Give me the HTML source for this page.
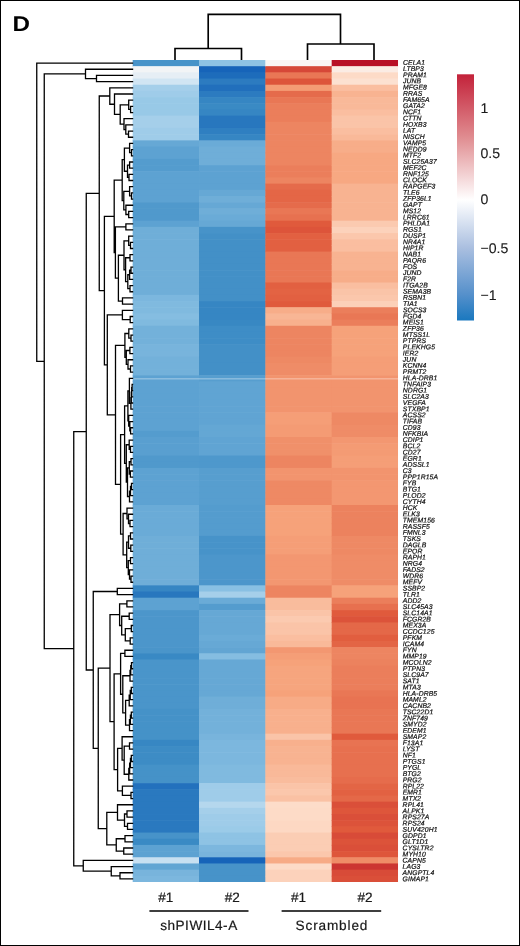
<!DOCTYPE html>
<html lang="en"><head><meta charset="utf-8"><title>Heatmap D</title>
<style>
html,body{margin:0;padding:0;background:#fff;overflow:hidden}
svg{display:block;will-change:transform;opacity:.999}
text{font-family:"Liberation Sans",sans-serif;fill:#1a1a1a;text-rendering:geometricPrecision}
.g{font-style:italic;font-size:6.8px;letter-spacing:.12px;fill:#0c0c0c;stroke:#0c0c0c;stroke-width:.22px}
.t{font-size:14.1px;fill:#111;stroke:#111;stroke-width:.12px}
.b{font-size:13.6px;fill:#0a0a0a;stroke:#0a0a0a;stroke-width:.18px}
</style></head>
<body>
<svg width="520" height="946" viewBox="0 0 520 946">
<defs><linearGradient id="cb" x1="0" y1="0" x2="0" y2="1"><stop offset="0" stop-color="#c3223a"/><stop offset="0.255" stop-color="#e08c90"/><stop offset="0.51" stop-color="#ffffff"/><stop offset="0.705" stop-color="#aabfe0"/><stop offset="0.895" stop-color="#5590cb"/><stop offset="1" stop-color="#1a78bf"/></linearGradient></defs>
<rect x="0" y="0" width="520" height="946" fill="#fff"/>
<rect x="0.5" y="0.5" width="519" height="945" fill="none" stroke="#000" stroke-width="1"/>
<text transform="translate(12.5 31.2) scale(1.13 1)" style="font-weight:bold;font-size:21.4px;fill:#000">D</text>
<g>
<rect x="132.70" y="60.00" width="66.83" height="6.78" fill="#4793c9"/><rect x="132.70" y="66.18" width="66.83" height="6.78" fill="#f2f4f6"/><rect x="132.70" y="72.36" width="66.83" height="6.78" fill="#e6eef5"/><rect x="132.70" y="78.54" width="66.83" height="6.78" fill="#d1e5f3"/><rect x="132.70" y="84.72" width="66.83" height="6.78" fill="#a5cfea"/><rect x="132.70" y="90.90" width="66.83" height="6.78" fill="#9fcce9"/><rect x="132.70" y="97.08" width="66.83" height="6.78" fill="#98c9e7"/><rect x="132.70" y="103.26" width="66.83" height="6.78" fill="#98c9e7"/><rect x="132.70" y="109.44" width="66.83" height="6.78" fill="#98c9e7"/><rect x="132.70" y="115.62" width="66.83" height="6.78" fill="#a5cfea"/><rect x="132.70" y="121.80" width="66.83" height="6.78" fill="#a5cfea"/><rect x="132.70" y="127.98" width="66.83" height="6.78" fill="#9fcce9"/><rect x="132.70" y="134.17" width="66.83" height="6.78" fill="#9fcce9"/><rect x="132.70" y="140.35" width="66.83" height="6.78" fill="#66a8d5"/><rect x="132.70" y="146.53" width="66.83" height="6.78" fill="#5da2d2"/><rect x="132.70" y="152.71" width="66.83" height="6.78" fill="#5da2d2"/><rect x="132.70" y="158.89" width="66.83" height="6.78" fill="#549cce"/><rect x="132.70" y="165.07" width="66.83" height="6.78" fill="#549cce"/><rect x="132.70" y="171.25" width="66.83" height="6.78" fill="#5da2d2"/><rect x="132.70" y="177.43" width="66.83" height="6.78" fill="#5da2d2"/><rect x="132.70" y="183.61" width="66.83" height="6.78" fill="#5da2d2"/><rect x="132.70" y="189.79" width="66.83" height="6.78" fill="#5da2d2"/><rect x="132.70" y="195.97" width="66.83" height="6.78" fill="#5da2d2"/><rect x="132.70" y="202.15" width="66.83" height="6.78" fill="#5099cc"/><rect x="132.70" y="208.33" width="66.83" height="6.78" fill="#5099cc"/><rect x="132.70" y="214.51" width="66.83" height="6.78" fill="#5099cc"/><rect x="132.70" y="220.69" width="66.83" height="6.78" fill="#5da2d2"/><rect x="132.70" y="226.87" width="66.83" height="6.78" fill="#6faed8"/><rect x="132.70" y="233.05" width="66.83" height="6.78" fill="#6faed8"/><rect x="132.70" y="239.23" width="66.83" height="6.78" fill="#6faed8"/><rect x="132.70" y="245.41" width="66.83" height="6.78" fill="#6faed8"/><rect x="132.70" y="251.59" width="66.83" height="6.78" fill="#6faed8"/><rect x="132.70" y="257.77" width="66.83" height="6.78" fill="#6faed8"/><rect x="132.70" y="263.95" width="66.83" height="6.78" fill="#6faed8"/><rect x="132.70" y="270.14" width="66.83" height="6.78" fill="#6faed8"/><rect x="132.70" y="276.32" width="66.83" height="6.78" fill="#6faed8"/><rect x="132.70" y="282.50" width="66.83" height="6.78" fill="#6faed8"/><rect x="132.70" y="288.68" width="66.83" height="6.78" fill="#6faed8"/><rect x="132.70" y="294.86" width="66.83" height="6.78" fill="#7cb7de"/><rect x="132.70" y="301.04" width="66.83" height="6.78" fill="#80badf"/><rect x="132.70" y="307.22" width="66.83" height="6.78" fill="#80badf"/><rect x="132.70" y="313.40" width="66.83" height="6.78" fill="#85bde1"/><rect x="132.70" y="319.58" width="66.83" height="6.78" fill="#80badf"/><rect x="132.70" y="325.76" width="66.83" height="6.78" fill="#73b1da"/><rect x="132.70" y="331.94" width="66.83" height="6.78" fill="#73b1da"/><rect x="132.70" y="338.12" width="66.83" height="6.78" fill="#73b1da"/><rect x="132.70" y="344.30" width="66.83" height="6.78" fill="#78b4dc"/><rect x="132.70" y="350.48" width="66.83" height="6.78" fill="#78b4dc"/><rect x="132.70" y="356.66" width="66.83" height="6.78" fill="#73b1da"/><rect x="132.70" y="362.84" width="66.83" height="6.78" fill="#73b1da"/><rect x="132.70" y="369.02" width="66.83" height="6.78" fill="#73b1da"/><rect x="132.70" y="375.20" width="66.83" height="6.78" fill="#5da2d2"/><rect x="132.70" y="381.38" width="66.83" height="6.78" fill="#5da2d2"/><rect x="132.70" y="387.56" width="66.83" height="6.78" fill="#5da2d2"/><rect x="132.70" y="393.74" width="66.83" height="6.78" fill="#5da2d2"/><rect x="132.70" y="399.92" width="66.83" height="6.78" fill="#5da2d2"/><rect x="132.70" y="406.11" width="66.83" height="6.78" fill="#5da2d2"/><rect x="132.70" y="412.29" width="66.83" height="6.78" fill="#5da2d2"/><rect x="132.70" y="418.47" width="66.83" height="6.78" fill="#5da2d2"/><rect x="132.70" y="424.65" width="66.83" height="6.78" fill="#5da2d2"/><rect x="132.70" y="430.83" width="66.83" height="6.78" fill="#549cce"/><rect x="132.70" y="437.01" width="66.83" height="6.78" fill="#599fd0"/><rect x="132.70" y="443.19" width="66.83" height="6.78" fill="#599fd0"/><rect x="132.70" y="449.37" width="66.83" height="6.78" fill="#599fd0"/><rect x="132.70" y="455.55" width="66.83" height="6.78" fill="#5099cc"/><rect x="132.70" y="461.73" width="66.83" height="6.78" fill="#5099cc"/><rect x="132.70" y="467.91" width="66.83" height="6.78" fill="#5da2d2"/><rect x="132.70" y="474.09" width="66.83" height="6.78" fill="#5da2d2"/><rect x="132.70" y="480.27" width="66.83" height="6.78" fill="#5da2d2"/><rect x="132.70" y="486.45" width="66.83" height="6.78" fill="#5da2d2"/><rect x="132.70" y="492.63" width="66.83" height="6.78" fill="#5da2d2"/><rect x="132.70" y="498.81" width="66.83" height="6.78" fill="#5da2d2"/><rect x="132.70" y="504.99" width="66.83" height="6.78" fill="#6aabd7"/><rect x="132.70" y="511.17" width="66.83" height="6.78" fill="#6aabd7"/><rect x="132.70" y="517.35" width="66.83" height="6.78" fill="#6aabd7"/><rect x="132.70" y="523.53" width="66.83" height="6.78" fill="#6aabd7"/><rect x="132.70" y="529.71" width="66.83" height="6.78" fill="#6aabd7"/><rect x="132.70" y="535.89" width="66.83" height="6.78" fill="#6faed8"/><rect x="132.70" y="542.08" width="66.83" height="6.78" fill="#6faed8"/><rect x="132.70" y="548.26" width="66.83" height="6.78" fill="#6faed8"/><rect x="132.70" y="554.44" width="66.83" height="6.78" fill="#6faed8"/><rect x="132.70" y="560.62" width="66.83" height="6.78" fill="#6faed8"/><rect x="132.70" y="566.80" width="66.83" height="6.78" fill="#6faed8"/><rect x="132.70" y="572.98" width="66.83" height="6.78" fill="#6faed8"/><rect x="132.70" y="579.16" width="66.83" height="6.78" fill="#6faed8"/><rect x="132.70" y="585.34" width="66.83" height="6.78" fill="#3686c3"/><rect x="132.70" y="591.52" width="66.83" height="6.78" fill="#2877be"/><rect x="132.70" y="597.70" width="66.83" height="6.78" fill="#5da2d2"/><rect x="132.70" y="603.88" width="66.83" height="6.78" fill="#5da2d2"/><rect x="132.70" y="610.06" width="66.83" height="6.78" fill="#4c96cb"/><rect x="132.70" y="616.24" width="66.83" height="6.78" fill="#4c96cb"/><rect x="132.70" y="622.42" width="66.83" height="6.78" fill="#4c96cb"/><rect x="132.70" y="628.60" width="66.83" height="6.78" fill="#4c96cb"/><rect x="132.70" y="634.78" width="66.83" height="6.78" fill="#4c96cb"/><rect x="132.70" y="640.96" width="66.83" height="6.78" fill="#4c96cb"/><rect x="132.70" y="647.14" width="66.83" height="6.78" fill="#4a95ca"/><rect x="132.70" y="653.32" width="66.83" height="6.78" fill="#3989c4"/><rect x="132.70" y="659.50" width="66.83" height="6.78" fill="#4a95ca"/><rect x="132.70" y="665.68" width="66.83" height="6.78" fill="#4a95ca"/><rect x="132.70" y="671.86" width="66.83" height="6.78" fill="#4a95ca"/><rect x="132.70" y="678.05" width="66.83" height="6.78" fill="#4a95ca"/><rect x="132.70" y="684.23" width="66.83" height="6.78" fill="#4a95ca"/><rect x="132.70" y="690.41" width="66.83" height="6.78" fill="#4a95ca"/><rect x="132.70" y="696.59" width="66.83" height="6.78" fill="#4a95ca"/><rect x="132.70" y="702.77" width="66.83" height="6.78" fill="#4a95ca"/><rect x="132.70" y="708.95" width="66.83" height="6.78" fill="#4592c8"/><rect x="132.70" y="715.13" width="66.83" height="6.78" fill="#4592c8"/><rect x="132.70" y="721.31" width="66.83" height="6.78" fill="#4592c8"/><rect x="132.70" y="727.49" width="66.83" height="6.78" fill="#4592c8"/><rect x="132.70" y="733.67" width="66.83" height="6.78" fill="#4592c8"/><rect x="132.70" y="739.85" width="66.83" height="6.78" fill="#3787c3"/><rect x="132.70" y="746.03" width="66.83" height="6.78" fill="#3d8cc5"/><rect x="132.70" y="752.21" width="66.83" height="6.78" fill="#3d8cc5"/><rect x="132.70" y="758.39" width="66.83" height="6.78" fill="#3d8cc5"/><rect x="132.70" y="764.57" width="66.83" height="6.78" fill="#4592c8"/><rect x="132.70" y="770.75" width="66.83" height="6.78" fill="#4592c8"/><rect x="132.70" y="776.93" width="66.83" height="6.78" fill="#4592c8"/><rect x="132.70" y="783.11" width="66.83" height="6.78" fill="#2371bd"/><rect x="132.70" y="789.29" width="66.83" height="6.78" fill="#2a79bf"/><rect x="132.70" y="795.47" width="66.83" height="6.78" fill="#2a79bf"/><rect x="132.70" y="801.65" width="66.83" height="6.78" fill="#2a79bf"/><rect x="132.70" y="807.83" width="66.83" height="6.78" fill="#2a79bf"/><rect x="132.70" y="814.02" width="66.83" height="6.78" fill="#2a79bf"/><rect x="132.70" y="820.20" width="66.83" height="6.78" fill="#2a79bf"/><rect x="132.70" y="826.38" width="66.83" height="6.78" fill="#2a79bf"/><rect x="132.70" y="832.56" width="66.83" height="6.78" fill="#4793c9"/><rect x="132.70" y="838.74" width="66.83" height="6.78" fill="#3a8ac4"/><rect x="132.70" y="844.92" width="66.83" height="6.78" fill="#5da2d2"/><rect x="132.70" y="851.10" width="66.83" height="6.78" fill="#5da2d2"/><rect x="132.70" y="857.28" width="66.83" height="6.78" fill="#c8e0f1"/><rect x="132.70" y="863.46" width="66.83" height="6.78" fill="#62a5d3"/><rect x="132.70" y="869.64" width="66.83" height="6.78" fill="#78b4dc"/><rect x="132.70" y="875.82" width="66.83" height="6.18" fill="#7cb7de"/>
<rect x="199.02" y="60.00" width="66.83" height="6.78" fill="#8ec3e4"/><rect x="199.02" y="66.18" width="66.83" height="6.78" fill="#1664b9"/><rect x="199.02" y="72.36" width="66.83" height="6.78" fill="#1d6cbb"/><rect x="199.02" y="78.54" width="66.83" height="6.78" fill="#2c7bc0"/><rect x="199.02" y="84.72" width="66.83" height="6.78" fill="#216fbc"/><rect x="199.02" y="90.90" width="66.83" height="6.78" fill="#2c7bc0"/><rect x="199.02" y="97.08" width="66.83" height="6.78" fill="#3686c3"/><rect x="199.02" y="103.26" width="66.83" height="6.78" fill="#3a8ac4"/><rect x="199.02" y="109.44" width="66.83" height="6.78" fill="#3686c3"/><rect x="199.02" y="115.62" width="66.83" height="6.78" fill="#2877be"/><rect x="199.02" y="121.80" width="66.83" height="6.78" fill="#2877be"/><rect x="199.02" y="127.98" width="66.83" height="6.78" fill="#2f7fc1"/><rect x="199.02" y="134.17" width="66.83" height="6.78" fill="#3686c3"/><rect x="199.02" y="140.35" width="66.83" height="6.78" fill="#6aabd7"/><rect x="199.02" y="146.53" width="66.83" height="6.78" fill="#6faed8"/><rect x="199.02" y="152.71" width="66.83" height="6.78" fill="#6faed8"/><rect x="199.02" y="158.89" width="66.83" height="6.78" fill="#6faed8"/><rect x="199.02" y="165.07" width="66.83" height="6.78" fill="#5da2d2"/><rect x="199.02" y="171.25" width="66.83" height="6.78" fill="#5da2d2"/><rect x="199.02" y="177.43" width="66.83" height="6.78" fill="#5da2d2"/><rect x="199.02" y="183.61" width="66.83" height="6.78" fill="#5da2d2"/><rect x="199.02" y="189.79" width="66.83" height="6.78" fill="#66a8d5"/><rect x="199.02" y="195.97" width="66.83" height="6.78" fill="#6faed8"/><rect x="199.02" y="202.15" width="66.83" height="6.78" fill="#66a8d5"/><rect x="199.02" y="208.33" width="66.83" height="6.78" fill="#6faed8"/><rect x="199.02" y="214.51" width="66.83" height="6.78" fill="#6aabd7"/><rect x="199.02" y="220.69" width="66.83" height="6.78" fill="#66a8d5"/><rect x="199.02" y="226.87" width="66.83" height="6.78" fill="#4793c9"/><rect x="199.02" y="233.05" width="66.83" height="6.78" fill="#4390c7"/><rect x="199.02" y="239.23" width="66.83" height="6.78" fill="#4390c7"/><rect x="199.02" y="245.41" width="66.83" height="6.78" fill="#4390c7"/><rect x="199.02" y="251.59" width="66.83" height="6.78" fill="#4390c7"/><rect x="199.02" y="257.77" width="66.83" height="6.78" fill="#4390c7"/><rect x="199.02" y="263.95" width="66.83" height="6.78" fill="#4390c7"/><rect x="199.02" y="270.14" width="66.83" height="6.78" fill="#4390c7"/><rect x="199.02" y="276.32" width="66.83" height="6.78" fill="#4390c7"/><rect x="199.02" y="282.50" width="66.83" height="6.78" fill="#4390c7"/><rect x="199.02" y="288.68" width="66.83" height="6.78" fill="#4390c7"/><rect x="199.02" y="294.86" width="66.83" height="6.78" fill="#4390c7"/><rect x="199.02" y="301.04" width="66.83" height="6.78" fill="#3686c3"/><rect x="199.02" y="307.22" width="66.83" height="6.78" fill="#3686c3"/><rect x="199.02" y="313.40" width="66.83" height="6.78" fill="#3686c3"/><rect x="199.02" y="319.58" width="66.83" height="6.78" fill="#3888c3"/><rect x="199.02" y="325.76" width="66.83" height="6.78" fill="#3e8dc6"/><rect x="199.02" y="331.94" width="66.83" height="6.78" fill="#3e8dc6"/><rect x="199.02" y="338.12" width="66.83" height="6.78" fill="#3e8dc6"/><rect x="199.02" y="344.30" width="66.83" height="6.78" fill="#4390c7"/><rect x="199.02" y="350.48" width="66.83" height="6.78" fill="#4390c7"/><rect x="199.02" y="356.66" width="66.83" height="6.78" fill="#4390c7"/><rect x="199.02" y="362.84" width="66.83" height="6.78" fill="#4390c7"/><rect x="199.02" y="369.02" width="66.83" height="6.78" fill="#4390c7"/><rect x="199.02" y="375.20" width="66.83" height="6.78" fill="#579ecf"/><rect x="199.02" y="381.38" width="66.83" height="6.78" fill="#60a4d3"/><rect x="199.02" y="387.56" width="66.83" height="6.78" fill="#60a4d3"/><rect x="199.02" y="393.74" width="66.83" height="6.78" fill="#60a4d3"/><rect x="199.02" y="399.92" width="66.83" height="6.78" fill="#60a4d3"/><rect x="199.02" y="406.11" width="66.83" height="6.78" fill="#60a4d3"/><rect x="199.02" y="412.29" width="66.83" height="6.78" fill="#60a4d3"/><rect x="199.02" y="418.47" width="66.83" height="6.78" fill="#60a4d3"/><rect x="199.02" y="424.65" width="66.83" height="6.78" fill="#64a7d4"/><rect x="199.02" y="430.83" width="66.83" height="6.78" fill="#64a7d4"/><rect x="199.02" y="437.01" width="66.83" height="6.78" fill="#60a4d3"/><rect x="199.02" y="443.19" width="66.83" height="6.78" fill="#60a4d3"/><rect x="199.02" y="449.37" width="66.83" height="6.78" fill="#60a4d3"/><rect x="199.02" y="455.55" width="66.83" height="6.78" fill="#4e98cc"/><rect x="199.02" y="461.73" width="66.83" height="6.78" fill="#4e98cc"/><rect x="199.02" y="467.91" width="66.83" height="6.78" fill="#579ecf"/><rect x="199.02" y="474.09" width="66.83" height="6.78" fill="#579ecf"/><rect x="199.02" y="480.27" width="66.83" height="6.78" fill="#579ecf"/><rect x="199.02" y="486.45" width="66.83" height="6.78" fill="#579ecf"/><rect x="199.02" y="492.63" width="66.83" height="6.78" fill="#579ecf"/><rect x="199.02" y="498.81" width="66.83" height="6.78" fill="#579ecf"/><rect x="199.02" y="504.99" width="66.83" height="6.78" fill="#549cce"/><rect x="199.02" y="511.17" width="66.83" height="6.78" fill="#549cce"/><rect x="199.02" y="517.35" width="66.83" height="6.78" fill="#549cce"/><rect x="199.02" y="523.53" width="66.83" height="6.78" fill="#549cce"/><rect x="199.02" y="529.71" width="66.83" height="6.78" fill="#549cce"/><rect x="199.02" y="535.89" width="66.83" height="6.78" fill="#4793c9"/><rect x="199.02" y="542.08" width="66.83" height="6.78" fill="#4793c9"/><rect x="199.02" y="548.26" width="66.83" height="6.78" fill="#4793c9"/><rect x="199.02" y="554.44" width="66.83" height="6.78" fill="#4c96cb"/><rect x="199.02" y="560.62" width="66.83" height="6.78" fill="#4c96cb"/><rect x="199.02" y="566.80" width="66.83" height="6.78" fill="#4c96cb"/><rect x="199.02" y="572.98" width="66.83" height="6.78" fill="#4c96cb"/><rect x="199.02" y="579.16" width="66.83" height="6.78" fill="#4c96cb"/><rect x="199.02" y="585.34" width="66.83" height="6.78" fill="#89c0e3"/><rect x="199.02" y="591.52" width="66.83" height="6.78" fill="#a5cfea"/><rect x="199.02" y="597.70" width="66.83" height="6.78" fill="#6aabd7"/><rect x="199.02" y="603.88" width="66.83" height="6.78" fill="#549cce"/><rect x="199.02" y="610.06" width="66.83" height="6.78" fill="#66a8d5"/><rect x="199.02" y="616.24" width="66.83" height="6.78" fill="#66a8d5"/><rect x="199.02" y="622.42" width="66.83" height="6.78" fill="#66a8d5"/><rect x="199.02" y="628.60" width="66.83" height="6.78" fill="#66a8d5"/><rect x="199.02" y="634.78" width="66.83" height="6.78" fill="#6aabd7"/><rect x="199.02" y="640.96" width="66.83" height="6.78" fill="#66a8d5"/><rect x="199.02" y="647.14" width="66.83" height="6.78" fill="#62a5d3"/><rect x="199.02" y="653.32" width="66.83" height="6.78" fill="#85bde1"/><rect x="199.02" y="659.50" width="66.83" height="6.78" fill="#66a8d5"/><rect x="199.02" y="665.68" width="66.83" height="6.78" fill="#66a8d5"/><rect x="199.02" y="671.86" width="66.83" height="6.78" fill="#66a8d5"/><rect x="199.02" y="678.05" width="66.83" height="6.78" fill="#66a8d5"/><rect x="199.02" y="684.23" width="66.83" height="6.78" fill="#66a8d5"/><rect x="199.02" y="690.41" width="66.83" height="6.78" fill="#66a8d5"/><rect x="199.02" y="696.59" width="66.83" height="6.78" fill="#6faed8"/><rect x="199.02" y="702.77" width="66.83" height="6.78" fill="#6faed8"/><rect x="199.02" y="708.95" width="66.83" height="6.78" fill="#73b1da"/><rect x="199.02" y="715.13" width="66.83" height="6.78" fill="#73b1da"/><rect x="199.02" y="721.31" width="66.83" height="6.78" fill="#73b1da"/><rect x="199.02" y="727.49" width="66.83" height="6.78" fill="#73b1da"/><rect x="199.02" y="733.67" width="66.83" height="6.78" fill="#78b4dc"/><rect x="199.02" y="739.85" width="66.83" height="6.78" fill="#7cb7de"/><rect x="199.02" y="746.03" width="66.83" height="6.78" fill="#7cb7de"/><rect x="199.02" y="752.21" width="66.83" height="6.78" fill="#7cb7de"/><rect x="199.02" y="758.39" width="66.83" height="6.78" fill="#7cb7de"/><rect x="199.02" y="764.57" width="66.83" height="6.78" fill="#80badf"/><rect x="199.02" y="770.75" width="66.83" height="6.78" fill="#80badf"/><rect x="199.02" y="776.93" width="66.83" height="6.78" fill="#80badf"/><rect x="199.02" y="783.11" width="66.83" height="6.78" fill="#9fcce9"/><rect x="199.02" y="789.29" width="66.83" height="6.78" fill="#9fcce9"/><rect x="199.02" y="795.47" width="66.83" height="6.78" fill="#9fcce9"/><rect x="199.02" y="801.65" width="66.83" height="6.78" fill="#b5d7ed"/><rect x="199.02" y="807.83" width="66.83" height="6.78" fill="#a5cfea"/><rect x="199.02" y="814.02" width="66.83" height="6.78" fill="#9fcce9"/><rect x="199.02" y="820.20" width="66.83" height="6.78" fill="#9fcce9"/><rect x="199.02" y="826.38" width="66.83" height="6.78" fill="#9bcbe8"/><rect x="199.02" y="832.56" width="66.83" height="6.78" fill="#8ec3e4"/><rect x="199.02" y="838.74" width="66.83" height="6.78" fill="#8ec3e4"/><rect x="199.02" y="844.92" width="66.83" height="6.78" fill="#7cb7de"/><rect x="199.02" y="851.10" width="66.83" height="6.78" fill="#78b4dc"/><rect x="199.02" y="857.28" width="66.83" height="6.78" fill="#1664b9"/><rect x="199.02" y="863.46" width="66.83" height="6.78" fill="#4793c9"/><rect x="199.02" y="869.64" width="66.83" height="6.78" fill="#4793c9"/><rect x="199.02" y="875.82" width="66.83" height="6.18" fill="#4793c9"/>
<rect x="265.35" y="60.00" width="66.83" height="6.78" fill="#faf5f2"/><rect x="265.35" y="66.18" width="66.83" height="6.78" fill="#d64837"/><rect x="265.35" y="72.36" width="66.83" height="6.78" fill="#e97755"/><rect x="265.35" y="78.54" width="66.83" height="6.78" fill="#dd543a"/><rect x="265.35" y="84.72" width="66.83" height="6.78" fill="#f49b74"/><rect x="265.35" y="90.90" width="66.83" height="6.78" fill="#e56b4b"/><rect x="265.35" y="97.08" width="66.83" height="6.78" fill="#e97755"/><rect x="265.35" y="103.26" width="66.83" height="6.78" fill="#eb7e5b"/><rect x="265.35" y="109.44" width="66.83" height="6.78" fill="#eb7e5b"/><rect x="265.35" y="115.62" width="66.83" height="6.78" fill="#eb7e5b"/><rect x="265.35" y="121.80" width="66.83" height="6.78" fill="#ed8561"/><rect x="265.35" y="127.98" width="66.83" height="6.78" fill="#ed8561"/><rect x="265.35" y="134.17" width="66.83" height="6.78" fill="#ed8561"/><rect x="265.35" y="140.35" width="66.83" height="6.78" fill="#ed8561"/><rect x="265.35" y="146.53" width="66.83" height="6.78" fill="#ed8561"/><rect x="265.35" y="152.71" width="66.83" height="6.78" fill="#ed8561"/><rect x="265.35" y="158.89" width="66.83" height="6.78" fill="#ed8561"/><rect x="265.35" y="165.07" width="66.83" height="6.78" fill="#eb7e5b"/><rect x="265.35" y="171.25" width="66.83" height="6.78" fill="#eb7e5b"/><rect x="265.35" y="177.43" width="66.83" height="6.78" fill="#ed8561"/><rect x="265.35" y="183.61" width="66.83" height="6.78" fill="#e56b4b"/><rect x="265.35" y="189.79" width="66.83" height="6.78" fill="#e46646"/><rect x="265.35" y="195.97" width="66.83" height="6.78" fill="#e46646"/><rect x="265.35" y="202.15" width="66.83" height="6.78" fill="#e56b4b"/><rect x="265.35" y="208.33" width="66.83" height="6.78" fill="#e97755"/><rect x="265.35" y="214.51" width="66.83" height="6.78" fill="#e77150"/><rect x="265.35" y="220.69" width="66.83" height="6.78" fill="#e05a3c"/><rect x="265.35" y="226.87" width="66.83" height="6.78" fill="#dd543a"/><rect x="265.35" y="233.05" width="66.83" height="6.78" fill="#e26041"/><rect x="265.35" y="239.23" width="66.83" height="6.78" fill="#e26041"/><rect x="265.35" y="245.41" width="66.83" height="6.78" fill="#e26041"/><rect x="265.35" y="251.59" width="66.83" height="6.78" fill="#e97755"/><rect x="265.35" y="257.77" width="66.83" height="6.78" fill="#e97755"/><rect x="265.35" y="263.95" width="66.83" height="6.78" fill="#e97755"/><rect x="265.35" y="270.14" width="66.83" height="6.78" fill="#e97755"/><rect x="265.35" y="276.32" width="66.83" height="6.78" fill="#e97755"/><rect x="265.35" y="282.50" width="66.83" height="6.78" fill="#e26041"/><rect x="265.35" y="288.68" width="66.83" height="6.78" fill="#e36343"/><rect x="265.35" y="294.86" width="66.83" height="6.78" fill="#e26041"/><rect x="265.35" y="301.04" width="66.83" height="6.78" fill="#e05a3c"/><rect x="265.35" y="307.22" width="66.83" height="6.78" fill="#f7ad89"/><rect x="265.35" y="313.40" width="66.83" height="6.78" fill="#f8b695"/><rect x="265.35" y="319.58" width="66.83" height="6.78" fill="#f8b08d"/><rect x="265.35" y="325.76" width="66.83" height="6.78" fill="#ed8561"/><rect x="265.35" y="331.94" width="66.83" height="6.78" fill="#ed8561"/><rect x="265.35" y="338.12" width="66.83" height="6.78" fill="#ed8561"/><rect x="265.35" y="344.30" width="66.83" height="6.78" fill="#ed8561"/><rect x="265.35" y="350.48" width="66.83" height="6.78" fill="#ed8561"/><rect x="265.35" y="356.66" width="66.83" height="6.78" fill="#ee8964"/><rect x="265.35" y="362.84" width="66.83" height="6.78" fill="#ef8c67"/><rect x="265.35" y="369.02" width="66.83" height="6.78" fill="#ef8c67"/><rect x="265.35" y="375.20" width="66.83" height="6.78" fill="#f2946e"/><rect x="265.35" y="381.38" width="66.83" height="6.78" fill="#f2946e"/><rect x="265.35" y="387.56" width="66.83" height="6.78" fill="#f2946e"/><rect x="265.35" y="393.74" width="66.83" height="6.78" fill="#f2946e"/><rect x="265.35" y="399.92" width="66.83" height="6.78" fill="#f2946e"/><rect x="265.35" y="406.11" width="66.83" height="6.78" fill="#f2946e"/><rect x="265.35" y="412.29" width="66.83" height="6.78" fill="#f59e77"/><rect x="265.35" y="418.47" width="66.83" height="6.78" fill="#f59e77"/><rect x="265.35" y="424.65" width="66.83" height="6.78" fill="#f49b74"/><rect x="265.35" y="430.83" width="66.83" height="6.78" fill="#f49b74"/><rect x="265.35" y="437.01" width="66.83" height="6.78" fill="#f0906a"/><rect x="265.35" y="443.19" width="66.83" height="6.78" fill="#f0906a"/><rect x="265.35" y="449.37" width="66.83" height="6.78" fill="#f0906a"/><rect x="265.35" y="455.55" width="66.83" height="6.78" fill="#ed8561"/><rect x="265.35" y="461.73" width="66.83" height="6.78" fill="#ed8561"/><rect x="265.35" y="467.91" width="66.83" height="6.78" fill="#f2946e"/><rect x="265.35" y="474.09" width="66.83" height="6.78" fill="#f2946e"/><rect x="265.35" y="480.27" width="66.83" height="6.78" fill="#ee8964"/><rect x="265.35" y="486.45" width="66.83" height="6.78" fill="#ee8964"/><rect x="265.35" y="492.63" width="66.83" height="6.78" fill="#ee8964"/><rect x="265.35" y="498.81" width="66.83" height="6.78" fill="#ee8964"/><rect x="265.35" y="504.99" width="66.83" height="6.78" fill="#f6a27a"/><rect x="265.35" y="511.17" width="66.83" height="6.78" fill="#f6a27a"/><rect x="265.35" y="517.35" width="66.83" height="6.78" fill="#f6a27a"/><rect x="265.35" y="523.53" width="66.83" height="6.78" fill="#f6a27a"/><rect x="265.35" y="529.71" width="66.83" height="6.78" fill="#f6a27a"/><rect x="265.35" y="535.89" width="66.83" height="6.78" fill="#f59e77"/><rect x="265.35" y="542.08" width="66.83" height="6.78" fill="#f59e77"/><rect x="265.35" y="548.26" width="66.83" height="6.78" fill="#f59e77"/><rect x="265.35" y="554.44" width="66.83" height="6.78" fill="#f39771"/><rect x="265.35" y="560.62" width="66.83" height="6.78" fill="#f39771"/><rect x="265.35" y="566.80" width="66.83" height="6.78" fill="#f39771"/><rect x="265.35" y="572.98" width="66.83" height="6.78" fill="#f39771"/><rect x="265.35" y="579.16" width="66.83" height="6.78" fill="#f39771"/><rect x="265.35" y="585.34" width="66.83" height="6.78" fill="#ed8561"/><rect x="265.35" y="591.52" width="66.83" height="6.78" fill="#ed8561"/><rect x="265.35" y="597.70" width="66.83" height="6.78" fill="#f9bc9d"/><rect x="265.35" y="603.88" width="66.83" height="6.78" fill="#f9bc9d"/><rect x="265.35" y="610.06" width="66.83" height="6.78" fill="#fac4a8"/><rect x="265.35" y="616.24" width="66.83" height="6.78" fill="#fbcab0"/><rect x="265.35" y="622.42" width="66.83" height="6.78" fill="#fac4a8"/><rect x="265.35" y="628.60" width="66.83" height="6.78" fill="#fac4a8"/><rect x="265.35" y="634.78" width="66.83" height="6.78" fill="#fabea0"/><rect x="265.35" y="640.96" width="66.83" height="6.78" fill="#f9b999"/><rect x="265.35" y="647.14" width="66.83" height="6.78" fill="#f39771"/><rect x="265.35" y="653.32" width="66.83" height="6.78" fill="#f59e77"/><rect x="265.35" y="659.50" width="66.83" height="6.78" fill="#f6a27a"/><rect x="265.35" y="665.68" width="66.83" height="6.78" fill="#f6a57e"/><rect x="265.35" y="671.86" width="66.83" height="6.78" fill="#f6a57e"/><rect x="265.35" y="678.05" width="66.83" height="6.78" fill="#f6a57e"/><rect x="265.35" y="684.23" width="66.83" height="6.78" fill="#f6a57e"/><rect x="265.35" y="690.41" width="66.83" height="6.78" fill="#f6a27a"/><rect x="265.35" y="696.59" width="66.83" height="6.78" fill="#f7ab86"/><rect x="265.35" y="702.77" width="66.83" height="6.78" fill="#f7ab86"/><rect x="265.35" y="708.95" width="66.83" height="6.78" fill="#f8b08d"/><rect x="265.35" y="715.13" width="66.83" height="6.78" fill="#f8b08d"/><rect x="265.35" y="721.31" width="66.83" height="6.78" fill="#f8b08d"/><rect x="265.35" y="727.49" width="66.83" height="6.78" fill="#f8b08d"/><rect x="265.35" y="733.67" width="66.83" height="6.78" fill="#fac4a8"/><rect x="265.35" y="739.85" width="66.83" height="6.78" fill="#f8b08d"/><rect x="265.35" y="746.03" width="66.83" height="6.78" fill="#f8b391"/><rect x="265.35" y="752.21" width="66.83" height="6.78" fill="#f8b391"/><rect x="265.35" y="758.39" width="66.83" height="6.78" fill="#f8b391"/><rect x="265.35" y="764.57" width="66.83" height="6.78" fill="#f9b999"/><rect x="265.35" y="770.75" width="66.83" height="6.78" fill="#f9b999"/><rect x="265.35" y="776.93" width="66.83" height="6.78" fill="#f9bc9d"/><rect x="265.35" y="783.11" width="66.83" height="6.78" fill="#fac4a8"/><rect x="265.35" y="789.29" width="66.83" height="6.78" fill="#fbc7ac"/><rect x="265.35" y="795.47" width="66.83" height="6.78" fill="#fac1a4"/><rect x="265.35" y="801.65" width="66.83" height="6.78" fill="#fddcc9"/><rect x="265.35" y="807.83" width="66.83" height="6.78" fill="#fddbc7"/><rect x="265.35" y="814.02" width="66.83" height="6.78" fill="#fddbc7"/><rect x="265.35" y="820.20" width="66.83" height="6.78" fill="#fdd8c3"/><rect x="265.35" y="826.38" width="66.83" height="6.78" fill="#fdd8c3"/><rect x="265.35" y="832.56" width="66.83" height="6.78" fill="#fbcdb4"/><rect x="265.35" y="838.74" width="66.83" height="6.78" fill="#fbcdb4"/><rect x="265.35" y="844.92" width="66.83" height="6.78" fill="#fbcdb4"/><rect x="265.35" y="851.10" width="66.83" height="6.78" fill="#fbc7ac"/><rect x="265.35" y="857.28" width="66.83" height="6.78" fill="#f7ab86"/><rect x="265.35" y="863.46" width="66.83" height="6.78" fill="#fddbc7"/><rect x="265.35" y="869.64" width="66.83" height="6.78" fill="#fcd2bb"/><rect x="265.35" y="875.82" width="66.83" height="6.18" fill="#fcd2bb"/>
<rect x="331.68" y="60.00" width="66.33" height="6.78" fill="#b81026"/><rect x="331.68" y="66.18" width="66.33" height="6.78" fill="#fbece4"/><rect x="331.68" y="72.36" width="66.33" height="6.78" fill="#fddbc7"/><rect x="331.68" y="78.54" width="66.33" height="6.78" fill="#fce1d1"/><rect x="331.68" y="84.72" width="66.33" height="6.78" fill="#fabea0"/><rect x="331.68" y="90.90" width="66.33" height="6.78" fill="#f8b391"/><rect x="331.68" y="97.08" width="66.33" height="6.78" fill="#f9b999"/><rect x="331.68" y="103.26" width="66.33" height="6.78" fill="#f9b999"/><rect x="331.68" y="109.44" width="66.33" height="6.78" fill="#fabea0"/><rect x="331.68" y="115.62" width="66.33" height="6.78" fill="#fac4a8"/><rect x="331.68" y="121.80" width="66.33" height="6.78" fill="#fac4a8"/><rect x="331.68" y="127.98" width="66.33" height="6.78" fill="#fabea0"/><rect x="331.68" y="134.17" width="66.33" height="6.78" fill="#f9b999"/><rect x="331.68" y="140.35" width="66.33" height="6.78" fill="#f7ad89"/><rect x="331.68" y="146.53" width="66.33" height="6.78" fill="#f7ad89"/><rect x="331.68" y="152.71" width="66.33" height="6.78" fill="#f7a882"/><rect x="331.68" y="158.89" width="66.33" height="6.78" fill="#f7a882"/><rect x="331.68" y="165.07" width="66.33" height="6.78" fill="#f7a882"/><rect x="331.68" y="171.25" width="66.33" height="6.78" fill="#f7a882"/><rect x="331.68" y="177.43" width="66.33" height="6.78" fill="#f7a882"/><rect x="331.68" y="183.61" width="66.33" height="6.78" fill="#f8b391"/><rect x="331.68" y="189.79" width="66.33" height="6.78" fill="#f8b391"/><rect x="331.68" y="195.97" width="66.33" height="6.78" fill="#f8b391"/><rect x="331.68" y="202.15" width="66.33" height="6.78" fill="#f8b391"/><rect x="331.68" y="208.33" width="66.33" height="6.78" fill="#f8b391"/><rect x="331.68" y="214.51" width="66.33" height="6.78" fill="#f8b391"/><rect x="331.68" y="220.69" width="66.33" height="6.78" fill="#fbcab0"/><rect x="331.68" y="226.87" width="66.33" height="6.78" fill="#fcd2bb"/><rect x="331.68" y="233.05" width="66.33" height="6.78" fill="#fbc7ac"/><rect x="331.68" y="239.23" width="66.33" height="6.78" fill="#fabea0"/><rect x="331.68" y="245.41" width="66.33" height="6.78" fill="#fabea0"/><rect x="331.68" y="251.59" width="66.33" height="6.78" fill="#f8b391"/><rect x="331.68" y="257.77" width="66.33" height="6.78" fill="#f8b391"/><rect x="331.68" y="263.95" width="66.33" height="6.78" fill="#f8b391"/><rect x="331.68" y="270.14" width="66.33" height="6.78" fill="#f7ad89"/><rect x="331.68" y="276.32" width="66.33" height="6.78" fill="#f7ad89"/><rect x="331.68" y="282.50" width="66.33" height="6.78" fill="#fabea0"/><rect x="331.68" y="288.68" width="66.33" height="6.78" fill="#fac4a8"/><rect x="331.68" y="294.86" width="66.33" height="6.78" fill="#fbc7ac"/><rect x="331.68" y="301.04" width="66.33" height="6.78" fill="#fcd0b8"/><rect x="331.68" y="307.22" width="66.33" height="6.78" fill="#eb7e5b"/><rect x="331.68" y="313.40" width="66.33" height="6.78" fill="#e97755"/><rect x="331.68" y="319.58" width="66.33" height="6.78" fill="#eb7e5b"/><rect x="331.68" y="325.76" width="66.33" height="6.78" fill="#f6a27a"/><rect x="331.68" y="331.94" width="66.33" height="6.78" fill="#f6a27a"/><rect x="331.68" y="338.12" width="66.33" height="6.78" fill="#f6a27a"/><rect x="331.68" y="344.30" width="66.33" height="6.78" fill="#f6a27a"/><rect x="331.68" y="350.48" width="66.33" height="6.78" fill="#f6a27a"/><rect x="331.68" y="356.66" width="66.33" height="6.78" fill="#f59e77"/><rect x="331.68" y="362.84" width="66.33" height="6.78" fill="#f59e77"/><rect x="331.68" y="369.02" width="66.33" height="6.78" fill="#f59e77"/><rect x="331.68" y="375.20" width="66.33" height="6.78" fill="#f2946e"/><rect x="331.68" y="381.38" width="66.33" height="6.78" fill="#f2946e"/><rect x="331.68" y="387.56" width="66.33" height="6.78" fill="#f2946e"/><rect x="331.68" y="393.74" width="66.33" height="6.78" fill="#f2946e"/><rect x="331.68" y="399.92" width="66.33" height="6.78" fill="#f2946e"/><rect x="331.68" y="406.11" width="66.33" height="6.78" fill="#f2946e"/><rect x="331.68" y="412.29" width="66.33" height="6.78" fill="#ee8964"/><rect x="331.68" y="418.47" width="66.33" height="6.78" fill="#ee8964"/><rect x="331.68" y="424.65" width="66.33" height="6.78" fill="#ef8c67"/><rect x="331.68" y="430.83" width="66.33" height="6.78" fill="#ef8c67"/><rect x="331.68" y="437.01" width="66.33" height="6.78" fill="#f39771"/><rect x="331.68" y="443.19" width="66.33" height="6.78" fill="#f49b74"/><rect x="331.68" y="449.37" width="66.33" height="6.78" fill="#f49b74"/><rect x="331.68" y="455.55" width="66.33" height="6.78" fill="#f59e77"/><rect x="331.68" y="461.73" width="66.33" height="6.78" fill="#f59e77"/><rect x="331.68" y="467.91" width="66.33" height="6.78" fill="#f2946e"/><rect x="331.68" y="474.09" width="66.33" height="6.78" fill="#f2946e"/><rect x="331.68" y="480.27" width="66.33" height="6.78" fill="#f39771"/><rect x="331.68" y="486.45" width="66.33" height="6.78" fill="#f39771"/><rect x="331.68" y="492.63" width="66.33" height="6.78" fill="#f39771"/><rect x="331.68" y="498.81" width="66.33" height="6.78" fill="#f39771"/><rect x="331.68" y="504.99" width="66.33" height="6.78" fill="#ec825e"/><rect x="331.68" y="511.17" width="66.33" height="6.78" fill="#ec825e"/><rect x="331.68" y="517.35" width="66.33" height="6.78" fill="#ec825e"/><rect x="331.68" y="523.53" width="66.33" height="6.78" fill="#ec825e"/><rect x="331.68" y="529.71" width="66.33" height="6.78" fill="#ec825e"/><rect x="331.68" y="535.89" width="66.33" height="6.78" fill="#ee8964"/><rect x="331.68" y="542.08" width="66.33" height="6.78" fill="#ee8964"/><rect x="331.68" y="548.26" width="66.33" height="6.78" fill="#ee8964"/><rect x="331.68" y="554.44" width="66.33" height="6.78" fill="#ef8c67"/><rect x="331.68" y="560.62" width="66.33" height="6.78" fill="#ef8c67"/><rect x="331.68" y="566.80" width="66.33" height="6.78" fill="#ef8c67"/><rect x="331.68" y="572.98" width="66.33" height="6.78" fill="#ef8c67"/><rect x="331.68" y="579.16" width="66.33" height="6.78" fill="#ef8c67"/><rect x="331.68" y="585.34" width="66.33" height="6.78" fill="#f6a27a"/><rect x="331.68" y="591.52" width="66.33" height="6.78" fill="#f6a27a"/><rect x="331.68" y="597.70" width="66.33" height="6.78" fill="#eb7e5b"/><rect x="331.68" y="603.88" width="66.33" height="6.78" fill="#e7704f"/><rect x="331.68" y="610.06" width="66.33" height="6.78" fill="#e05a3c"/><rect x="331.68" y="616.24" width="66.33" height="6.78" fill="#dc533a"/><rect x="331.68" y="622.42" width="66.33" height="6.78" fill="#e46848"/><rect x="331.68" y="628.60" width="66.33" height="6.78" fill="#e46848"/><rect x="331.68" y="634.78" width="66.33" height="6.78" fill="#e15e3f"/><rect x="331.68" y="640.96" width="66.33" height="6.78" fill="#e36545"/><rect x="331.68" y="647.14" width="66.33" height="6.78" fill="#ed8561"/><rect x="331.68" y="653.32" width="66.33" height="6.78" fill="#ed8561"/><rect x="331.68" y="659.50" width="66.33" height="6.78" fill="#ec825e"/><rect x="331.68" y="665.68" width="66.33" height="6.78" fill="#eb7e5b"/><rect x="331.68" y="671.86" width="66.33" height="6.78" fill="#eb7e5b"/><rect x="331.68" y="678.05" width="66.33" height="6.78" fill="#eb7e5b"/><rect x="331.68" y="684.23" width="66.33" height="6.78" fill="#eb7e5b"/><rect x="331.68" y="690.41" width="66.33" height="6.78" fill="#e97755"/><rect x="331.68" y="696.59" width="66.33" height="6.78" fill="#e87352"/><rect x="331.68" y="702.77" width="66.33" height="6.78" fill="#e87352"/><rect x="331.68" y="708.95" width="66.33" height="6.78" fill="#e97755"/><rect x="331.68" y="715.13" width="66.33" height="6.78" fill="#e97755"/><rect x="331.68" y="721.31" width="66.33" height="6.78" fill="#e97755"/><rect x="331.68" y="727.49" width="66.33" height="6.78" fill="#e97755"/><rect x="331.68" y="733.67" width="66.33" height="6.78" fill="#e05a3c"/><rect x="331.68" y="739.85" width="66.33" height="6.78" fill="#e87352"/><rect x="331.68" y="746.03" width="66.33" height="6.78" fill="#e7704f"/><rect x="331.68" y="752.21" width="66.33" height="6.78" fill="#e7704f"/><rect x="331.68" y="758.39" width="66.33" height="6.78" fill="#e7704f"/><rect x="331.68" y="764.57" width="66.33" height="6.78" fill="#e7704f"/><rect x="331.68" y="770.75" width="66.33" height="6.78" fill="#e7704f"/><rect x="331.68" y="776.93" width="66.33" height="6.78" fill="#e66c4c"/><rect x="331.68" y="783.11" width="66.33" height="6.78" fill="#e36545"/><rect x="331.68" y="789.29" width="66.33" height="6.78" fill="#e26142"/><rect x="331.68" y="795.47" width="66.33" height="6.78" fill="#e46848"/><rect x="331.68" y="801.65" width="66.33" height="6.78" fill="#da4f39"/><rect x="331.68" y="807.83" width="66.33" height="6.78" fill="#de563b"/><rect x="331.68" y="814.02" width="66.33" height="6.78" fill="#da4f39"/><rect x="331.68" y="820.20" width="66.33" height="6.78" fill="#dc533a"/><rect x="331.68" y="826.38" width="66.33" height="6.78" fill="#e05a3c"/><rect x="331.68" y="832.56" width="66.33" height="6.78" fill="#d84b38"/><rect x="331.68" y="838.74" width="66.33" height="6.78" fill="#dc533a"/><rect x="331.68" y="844.92" width="66.33" height="6.78" fill="#da4f39"/><rect x="331.68" y="851.10" width="66.33" height="6.78" fill="#de563b"/><rect x="331.68" y="857.28" width="66.33" height="6.78" fill="#ef8c67"/><rect x="331.68" y="863.46" width="66.33" height="6.78" fill="#cc3531"/><rect x="331.68" y="869.64" width="66.33" height="6.78" fill="#d84b38"/><rect x="331.68" y="875.82" width="66.33" height="6.18" fill="#da4f39"/>
</g>
<rect x="132.70" y="378.1" width="265.30" height="1.4" fill="#fff" opacity="0.33"/>
<path d="M175 60V48.5H241.5V60 M307.5 60V44H374V60 M208.2 48.5V14.3H340.5V44" fill="none" stroke="#000" stroke-width="1.65" stroke-linejoin="miter"/>
<path d="M133.20 75.45H96.50V81.63H133.20M133.20 69.27H85.50V78.54H96.50M133.20 106.35H130.60V112.53H133.20M133.20 100.17H128.70V109.44H130.60M133.20 131.08H128.50V137.26H133.20M133.20 124.89H125.80V134.17H128.50M133.20 118.71H124.00V129.53H125.80M128.70 104.81H120.20V124.12H124.00M133.20 93.99H114.50V114.47H120.20M133.20 87.81H109.80V104.23H114.50M133.20 149.62H131.50V155.80H133.20M133.20 143.44H129.60V152.71H131.50M133.20 161.98H129.60V168.16H133.20M133.20 174.34H129.00V180.52H133.20M129.60 165.07H127.50V177.43H129.00M129.60 148.07H124.40V171.25H127.50M133.20 192.88H131.50V199.06H133.20M133.20 186.70H129.60V195.97H131.50M133.20 211.42H128.70V217.60H133.20M133.20 205.24H125.90V214.51H128.70M129.60 191.33H123.80V209.88H125.90M124.40 159.66H122.20V200.61H123.80M133.20 223.78H125.90V229.96H133.20M133.20 242.32H130.50V248.50H133.20M133.20 236.14H128.70V245.41H130.50M133.20 254.68H130.00V260.86H133.20M133.20 267.05H131.00V273.23H133.20M131.00 270.14H129.60V279.41H133.20M133.20 285.59H130.00V291.77H133.20M129.60 274.77H127.80V288.68H130.00M130.00 257.77H125.60V281.72H127.80M128.70 240.78H124.00V269.75H125.60M133.20 297.95H122.50V304.13H133.20M124.00 255.26H118.40V301.04H122.50M125.90 226.87H115.40V278.15H118.40M122.20 180.13H114.20V252.51H115.40M133.20 316.49H130.20V322.67H133.20M133.20 310.31H122.40V319.58H130.20M133.20 335.03H131.00V341.21H133.20M133.20 328.85H128.80V338.12H131.00M133.20 347.39H129.90V353.57H133.20M133.20 365.93H130.50V372.11H133.20M133.20 359.75H128.00V369.02H130.50M129.90 350.48H126.30V364.39H128.00M128.80 333.48H124.90V357.43H126.30M133.20 384.47H132.10V390.65H133.20M132.10 387.56H131.70V396.83H133.20M131.70 392.20H131.30V403.02H133.20M131.30 397.61H130.90V409.20H133.20M133.20 378.29H129.40V403.40H130.90M133.20 427.74H130.60V433.92H133.20M133.20 421.56H129.80V430.83H130.60M133.20 415.38H128.70V426.19H129.80M129.40 390.85H127.90V420.78H128.70M133.20 446.28H130.50V452.46H133.20M133.20 440.10H129.20V449.37H130.50M133.20 458.64H131.00V464.82H133.20M133.20 471.00H130.40V477.18H133.20M131.00 461.73H129.30V474.09H130.40M133.20 483.36H131.50V489.54H133.20M131.50 486.45H130.50V495.72H133.20M130.50 491.09H129.50V501.90H133.20M129.30 467.91H127.50V496.49H129.50M129.20 444.73H126.30V482.20H127.50M127.90 405.82H124.60V463.47H126.30M133.20 520.44H130.00V526.62H133.20M133.20 514.26H128.50V523.53H130.00M133.20 508.08H127.00V518.90H128.50M133.20 532.80H130.50V538.98H133.20M133.20 545.17H130.80V551.35H133.20M130.50 535.89H128.50V548.26H130.80M133.20 557.53H130.50V563.71H133.20M133.20 576.07H131.00V582.25H133.20M133.20 569.89H129.50V579.16H131.00M130.50 560.62H128.30V574.52H129.50M128.50 542.08H126.70V567.57H128.30M127.00 513.49H123.10V554.82H126.70M124.60 434.64H120.60V534.16H123.10M124.90 345.46H115.50V484.40H120.60M122.40 314.94H107.30V414.93H115.50M114.20 216.32H104.40V364.94H107.30M109.80 96.02H99.25V290.63H104.40M133.20 588.43H117.30V594.61H133.20M133.20 600.79H126.90V606.97H133.20M133.20 613.15H129.20V619.33H133.20M133.20 625.51H131.30V631.69H133.20M133.20 637.87H130.20V644.05H133.20M131.30 628.60H125.30V640.96H130.20M129.20 616.24H121.70V634.78H125.30M126.90 603.88H119.60V625.51H121.70M133.20 650.23H124.90V656.41H133.20M133.20 662.59H131.50V668.77H133.20M131.50 665.68H130.75V674.95H133.20M130.75 670.32H130.00V681.14H133.20M133.20 687.32H131.30V693.50H133.20M131.30 690.41H130.25V699.68H133.20M130.25 695.04H129.20V705.86H133.20M133.20 712.04H131.30V718.22H133.20M131.30 715.13H130.40V724.40H133.20M130.40 719.76H129.50V730.58H133.20M129.20 700.45H125.60V725.17H129.50M130.00 675.73H122.80V712.81H125.60M124.90 653.32H120.60V694.27H122.80M133.20 742.94H129.50V749.12H133.20M133.20 755.30H131.30V761.48H133.20M131.30 758.39H130.47V767.66H133.20M130.47 763.03H129.63V773.84H133.20M129.63 768.43H128.80V780.02H133.20M129.50 746.03H124.20V774.23H128.80M133.20 736.76H122.10V760.13H124.20M133.20 792.38H131.00V798.56H133.20M133.20 786.20H122.40V795.47H131.00M122.10 748.44H117.60V790.84H122.40M120.60 673.80H114.10V769.64H117.60M119.60 614.70H110.00V721.72H114.10M133.20 810.92H127.00V817.11H133.20M133.20 823.29H127.50V829.47H133.20M127.00 814.02H124.50V826.38H127.50M133.20 804.74H117.50V820.20H124.50M133.20 835.65H125.00V841.83H133.20M133.20 848.01H123.75V854.19H133.20M125.00 838.74H116.25V851.10H123.75M117.50 812.47H106.80V844.92H116.25M110.00 668.21H98.25V828.69H106.80M117.30 591.52H93.25V748.45H98.25M99.25 193.32H86.25V669.98H93.25M133.20 872.73H120.00V878.91H133.20M133.20 866.55H111.25V875.82H120.00M133.20 860.37H83.25V871.18H111.25M86.25 431.65H73.75V865.78H83.25M85.50 73.91H44.25V648.72H73.75M133.20 63.09H36.75V361.31H44.25" fill="none" stroke="#000" stroke-width="1.3"/>
<g class="g" transform="rotate(0.03 403 470)">
<text x="402.8" y="64.80">CELA1</text><text x="402.8" y="70.98">LTBP3</text><text x="402.8" y="77.17">PRAM1</text><text x="402.8" y="83.35">JUNB</text><text x="402.8" y="89.54">MFGE8</text><text x="402.8" y="95.72">RRAS</text>
<text x="402.8" y="101.91">FAM65A</text><text x="402.8" y="108.09">GATA2</text><text x="402.8" y="114.28">NCF1</text><text x="402.8" y="120.46">CTTN</text><text x="402.8" y="126.65">HOXB3</text><text x="402.8" y="132.83">LAT</text>
<text x="402.8" y="139.02">NISCH</text><text x="402.8" y="145.20">VAMP5</text><text x="402.8" y="151.39">NEDD9</text><text x="402.8" y="157.57">MTF2</text><text x="402.8" y="163.76">SLC25A37</text><text x="402.8" y="169.94">MEF2C</text>
<text x="402.8" y="176.13">RNF125</text><text x="402.8" y="182.31">CLOCK</text><text x="402.8" y="188.50">RAPGEF3</text><text x="402.8" y="194.68">TLE6</text><text x="402.8" y="200.87">ZFP36L1</text><text x="402.8" y="207.05">GAPT</text>
<text x="402.8" y="213.24">MS12</text><text x="402.8" y="219.42">LRRC61</text><text x="402.8" y="225.60">PHLDA1</text><text x="402.8" y="231.79">RGS1</text><text x="402.8" y="237.97">DUSP1</text><text x="402.8" y="244.16">NR4A1</text>
<text x="402.8" y="250.34">HIP1R</text><text x="402.8" y="256.53">NAB1</text><text x="402.8" y="262.71">PAQR6</text><text x="402.8" y="268.90">FOS</text><text x="402.8" y="275.08">JUND</text><text x="402.8" y="281.27">F2R</text>
<text x="402.8" y="287.45">ITGA2B</text><text x="402.8" y="293.64">SEMA3B</text><text x="402.8" y="299.82">RSBN1</text><text x="402.8" y="306.01">TIA1</text><text x="402.8" y="312.19">SOCS3</text><text x="402.8" y="318.38">FGD4</text>
<text x="402.8" y="324.56">MEIS1</text><text x="402.8" y="330.75">ZFP36</text><text x="402.8" y="336.93">MTSS1L</text><text x="402.8" y="343.12">PTPRS</text><text x="402.8" y="349.30">PLEKHG5</text><text x="402.8" y="355.49">IER2</text>
<text x="402.8" y="361.67">JUN</text><text x="402.8" y="367.86">KCNN4</text><text x="402.8" y="374.04">PRMT2</text><text x="402.8" y="380.22">HLA-DRB1</text><text x="402.8" y="386.41">TNFAIP3</text><text x="402.8" y="392.59">NDRG1</text>
<text x="402.8" y="398.78">SLC2A3</text><text x="402.8" y="404.96">VEGFA</text><text x="402.8" y="411.15">STXBP1</text><text x="402.8" y="417.33">ACSS2</text><text x="402.8" y="423.52">TIFAB</text><text x="402.8" y="429.70">CD93</text>
<text x="402.8" y="435.89">NFKBIA</text><text x="402.8" y="442.07">CDIP1</text><text x="402.8" y="448.26">BCL2</text><text x="402.8" y="454.44">CD27</text><text x="402.8" y="460.63">EGR1</text><text x="402.8" y="466.81">ADSSL1</text>
<text x="402.8" y="473.00">C3</text><text x="402.8" y="479.18">PPP1R15A</text><text x="402.8" y="485.37">FYB</text><text x="402.8" y="491.55">BTG1</text><text x="402.8" y="497.74">PLOD2</text><text x="402.8" y="503.92">CYTH4</text>
<text x="402.8" y="510.11">HCK</text><text x="402.8" y="516.29">ELK3</text><text x="402.8" y="522.48">TMEM156</text><text x="402.8" y="528.66">RASSF5</text><text x="402.8" y="534.84">FMNL3</text><text x="402.8" y="541.03">TSKS</text>
<text x="402.8" y="547.21">DAGLB</text><text x="402.8" y="553.40">EPOR</text><text x="402.8" y="559.58">RAPH1</text><text x="402.8" y="565.77">NRG4</text><text x="402.8" y="571.95">FADS2</text><text x="402.8" y="578.14">WDR6</text>
<text x="402.8" y="584.32">MEFV</text><text x="402.8" y="590.51">SSBP2</text><text x="402.8" y="596.69">TLR1</text><text x="402.8" y="602.88">ADD2</text><text x="402.8" y="609.06">SLC45A3</text><text x="402.8" y="615.25">SLC14A1</text>
<text x="402.8" y="621.43">FCGR2B</text><text x="402.8" y="627.62">MEX3A</text><text x="402.8" y="633.80">CCDC125</text><text x="402.8" y="639.99">PFKM</text><text x="402.8" y="646.17">ICAM4</text><text x="402.8" y="652.36">FYN</text>
<text x="402.8" y="658.54">MMP19</text><text x="402.8" y="664.73">MCOLN2</text><text x="402.8" y="670.91">PTPN3</text><text x="402.8" y="677.10">SLC9A7</text><text x="402.8" y="683.28">SAT1</text><text x="402.8" y="689.46">MTA3</text>
<text x="402.8" y="695.65">HLA-DRB5</text><text x="402.8" y="701.83">MAML2</text><text x="402.8" y="708.02">CACNB2</text><text x="402.8" y="714.20">TSC22D1</text><text x="402.8" y="720.39">ZNF749</text><text x="402.8" y="726.57">SMYD2</text>
<text x="402.8" y="732.76">EDEM1</text><text x="402.8" y="738.94">SMAP2</text><text x="402.8" y="745.13">F13A1</text><text x="402.8" y="751.31">LYST</text><text x="402.8" y="757.50">NF1</text><text x="402.8" y="763.68">PTGS1</text>
<text x="402.8" y="769.87">PYGL</text><text x="402.8" y="776.05">BTG2</text><text x="402.8" y="782.24">PRG2</text><text x="402.8" y="788.42">RPL22</text><text x="402.8" y="794.61">EMR1</text><text x="402.8" y="800.79">MTX2</text>
<text x="402.8" y="806.98">RPL41</text><text x="402.8" y="813.16">ALPK1</text><text x="402.8" y="819.35">RPS27A</text><text x="402.8" y="825.53">RPS24</text><text x="402.8" y="831.72">SUV420H1</text><text x="402.8" y="837.90">GDPD1</text>
<text x="402.8" y="844.08">GLT1D1</text><text x="402.8" y="850.27">CYSLTR2</text><text x="402.8" y="856.45">MYH10</text><text x="402.8" y="862.64">CAPN5</text><text x="402.8" y="868.82">LAG3</text><text x="402.8" y="875.01">ANGPTL4</text>
<text x="402.8" y="881.19">GIMAP1</text>
</g>
<rect x="457" y="74.3" width="17" height="246.2" fill="url(#cb)"/>
<g class="t"><text x="480.5" y="112.5">1</text><text x="480.5" y="158.4">0.5</text><text x="480.5" y="204.4">0</text><text x="480.5" y="252.6">−0.5</text><text x="480.5" y="300.4">−1</text></g>
<g class="b"><text x="158.3" y="901.8">#1</text><text x="224.8" y="901.8">#2</text><text x="291" y="901.8">#1</text><text x="357.5" y="901.8">#2</text><text x="160.2" y="930.4" style="letter-spacing:.5px">shPIWIL4-A</text><text x="295.6" y="930.4" style="letter-spacing:.85px">Scrambled</text></g>
<path d="M149.4 911H248.5M281.6 911H381.2" stroke="#000" stroke-width="1.3" fill="none"/>
</svg>
</body></html>
